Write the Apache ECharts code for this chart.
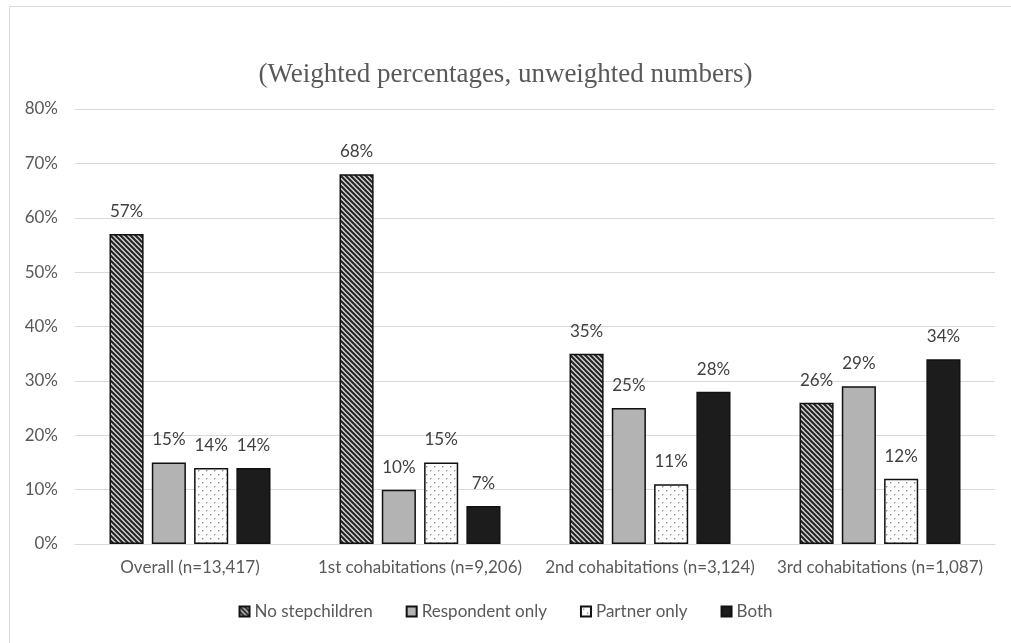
<!DOCTYPE html>
<html>
<head>
<meta charset="utf-8">
<script src="https://cdn.jsdelivr.net/npm/echarts@6/dist/echarts.min.js"></script>
<style>
  html, body { margin: 0; padding: 0; background: #fff; }
  #chart { width: 1011px; height: 643px; }
</style>
</head>
<body>
<div id="chart"></div>
<script>
// Cohabitation groups and stepchild composition (%)
const categories = [
  'Overall (n=13,417)',
  '1st cohabitations (n=9,206)',
  '2nd cohabitations (n=3,124)',
  '3rd cohabitations (n=1,087)'
];
const seriesNames = ['No stepchildren', 'Respondent only', 'Partner only', 'Both'];
const noStepchildren = [57, 68, 35, 26];
const respondentOnly = [15, 10, 25, 29];
const partnerOnly = [14, 15, 11, 12];
const both = [14, 7, 28, 34];
const yTicks = [0, 10, 20, 30, 40, 50, 60, 70, 80];

// Fill patterns for the bars
function hatchPattern() {
  const c = document.createElement('canvas');
  c.width = 5; c.height = 5;
  const g = c.getContext('2d');
  g.fillStyle = '#d0d0d0';
  g.fillRect(0, 0, 5, 5);
  g.strokeStyle = '#222';
  g.lineWidth = 2;
  g.beginPath();
  g.moveTo(-1, -1); g.lineTo(6, 6);
  g.moveTo(-1, 4); g.lineTo(1, 6);
  g.moveTo(4, -1); g.lineTo(6, 1);
  g.stroke();
  return c;
}
function dotPattern() {
  const c = document.createElement('canvas');
  c.width = 8; c.height = 8;
  const g = c.getContext('2d');
  g.fillStyle = '#ffffff';
  g.fillRect(0, 0, 8, 8);
  g.fillStyle = '#8a8a8a';
  g.fillRect(2, 2, 1.4, 1.4);
  g.fillRect(6, 6, 1.4, 1.4);
  return c;
}

const fills = [
  { image: hatchPattern(), repeat: 'repeat' },
  '#b3b3b3',
  { image: dotPattern(), repeat: 'repeat' },
  '#1c1c1c'
];
const values = [noStepchildren, respondentOnly, partnerOnly, both];

const axisFont = 'Lato, "Liberation Sans", sans-serif';

const chart = echarts.init(document.getElementById('chart'), null, { renderer: 'canvas' });
chart.setOption({
  animation: false,
  backgroundColor: '#ffffff',
  title: {
    text: '(Weighted percentages, unweighted numbers)',
    left: 'center',
    top: 56,
    textStyle: {
      fontFamily: '"Liberation Serif", "Times New Roman", serif',
      fontWeight: 'normal',
      fontSize: 27,
      color: '#595959'
    }
  },
  graphic: [{
    type: 'rect',
    shape: { x: 9.5, y: 6.5, width: 1100, height: 700 },
    style: { fill: 'none', stroke: '#d9d9d9', lineWidth: 1 },
    silent: true
  }],
  legend: {
    data: seriesNames,
    top: 598,
    left: 'center',
    itemWidth: 10,
    itemHeight: 10,
    itemGap: 33,
    icon: 'rect',
    textStyle: { fontFamily: axisFont, fontSize: 17, color: '#595959' }
  },
  grid: { left: 75, right: 16, top: 109, bottom: 99, containLabel: false },
  xAxis: {
    type: 'category',
    data: categories,
    axisTick: { show: false },
    axisLine: { show: true, lineStyle: { color: '#d9d9d9' } },
    axisLabel: { fontFamily: axisFont, fontSize: 17, color: '#595959', margin: 15, interval: 0 }
  },
  yAxis: {
    type: 'value',
    min: yTicks[0],
    max: yTicks[yTicks.length - 1],
    interval: yTicks[1] - yTicks[0],
    axisLine: { show: false },
    axisTick: { show: false },
    splitLine: { lineStyle: { color: '#d9d9d9' } },
    axisLabel: { formatter: '{value}%', fontFamily: axisFont, fontSize: 17, color: '#595959', margin: 17 }
  },
  series: seriesNames.map((name, i) => ({
    name: name,
    type: 'bar',
    data: values[i],
    barGap: '24%',
    barCategoryGap: '30%',
    itemStyle: { color: fills[i], borderColor: '#111', borderWidth: 1.5 },
    label: {
      show: true,
      position: 'top',
      distance: 14,
      formatter: '{c}%',
      fontFamily: axisFont,
      fontSize: 17,
      color: '#404040'
    }
  }))
});
</script>
</body>
</html>
